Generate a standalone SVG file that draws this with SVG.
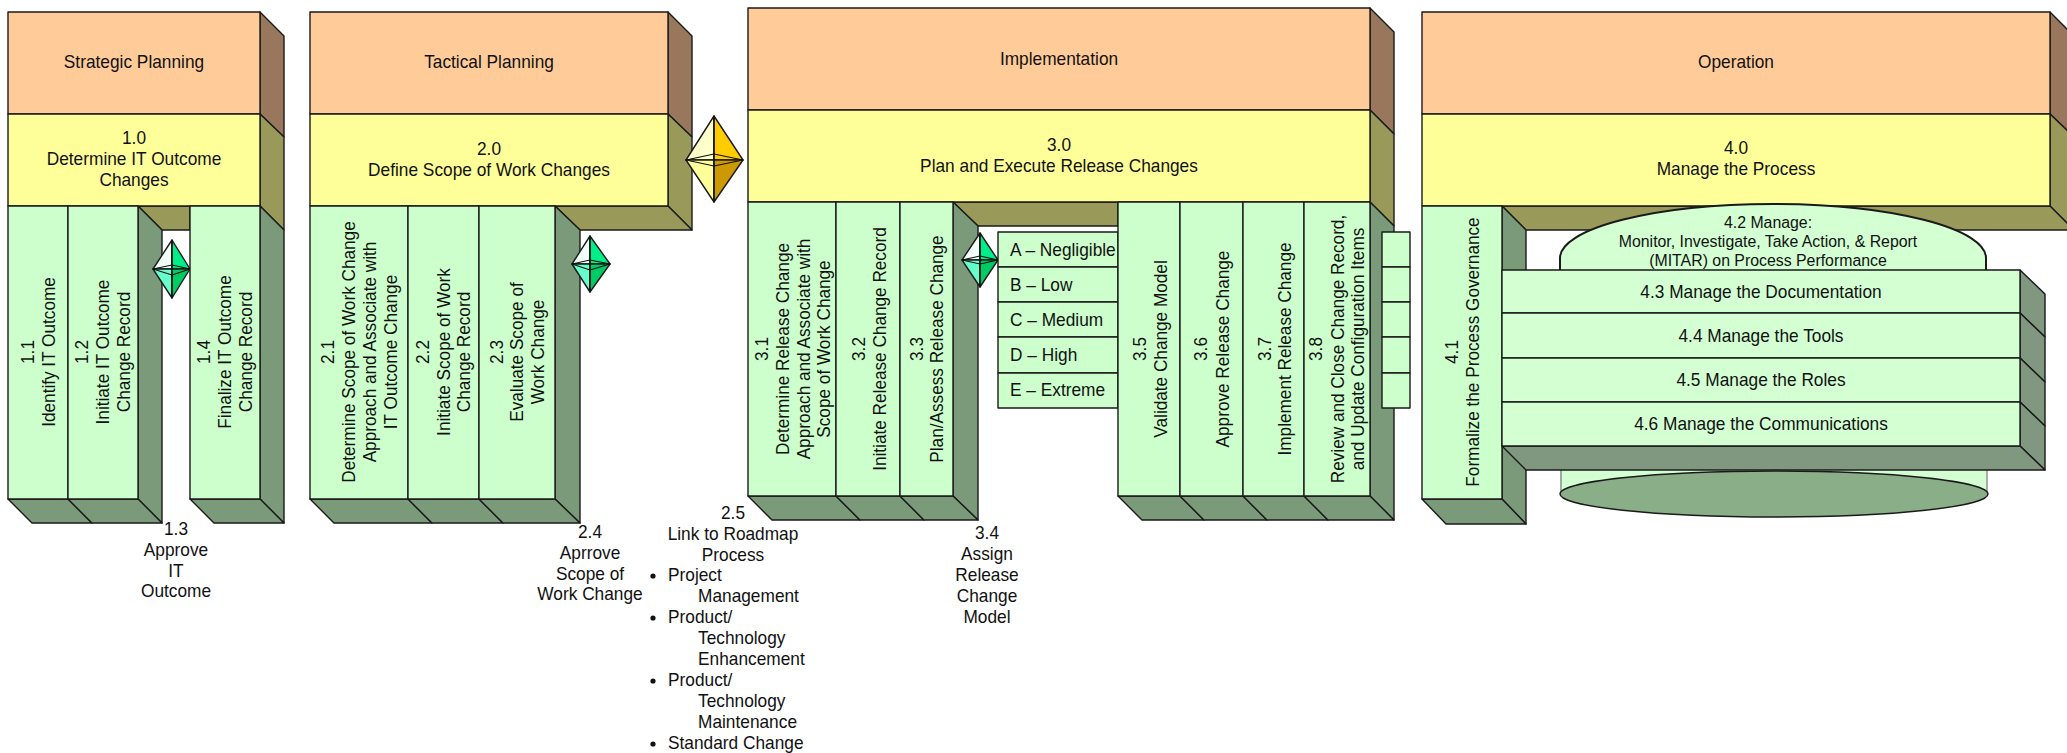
<svg xmlns="http://www.w3.org/2000/svg" width="2067" height="753" viewBox="0 0 2067 753">
<style>
text{font-family:"Liberation Sans",Arial,sans-serif;font-size:18.2px;fill:#111;text-anchor:middle}
.r{font-size:19px}
.l{text-anchor:start}
.s{font-size:16.2px}
polygon,rect,ellipse,path{stroke:#1a1a1a;stroke-width:1.4;stroke-linejoin:round}
.o{fill:#FFCC99}.bo{fill:#99775C}.y{fill:#FFFF99}.by{fill:#999959}.g{fill:#CCFFCC}.bg{fill:#7A9A7A}
.p{fill:#D3FFD3}.bp{fill:#7F987F}
.d{fill:none;stroke:#111;stroke-width:1.2}
.ul{fill:#F2FFF9}.ur{fill:#00EE88}.ll{fill:#66FFCC}.lr{fill:#00CC66}
</style>

<g id="strategic-planning">
<polygon class="bo" points="260,12 284,36 284,137 260,114"/>
<rect class="o" x="8" y="12" width="252" height="102"/>
<text transform="translate(134,68) scale(.95,1)">Strategic Planning</text>
</g>
<g id="n1-0">
<polygon class="by" points="260,114 284,137 284,230 260,206"/>
<polygon class="by" points="138,206 162,230 190,230 190,206"/>
<rect class="y" x="8" y="114" width="252" height="92"/>
<text transform="translate(134,144) scale(.95,1)">1.0</text><text transform="translate(134,165) scale(.95,1)">Determine IT Outcome</text><text transform="translate(134,186) scale(.95,1)">Changes</text>
</g>
<g id="n1-1">
<polygon class="bg" points="8,499 68,499 92,523 32,523"/>
<rect class="g" x="8" y="206" width="60" height="293"/>
<text class="r" transform="translate(34,352) rotate(-90) scale(.905,1)">1.1</text><text class="r" transform="translate(55,352) rotate(-90) scale(.905,1)">Identify IT Outcome</text>
</g>
<g id="n1-2">
<polygon class="bg" points="138,206 162,230 162,523 138,499"/>
<polygon class="bg" points="68,499 138,499 162,523 92,523"/>
<rect class="g" x="68" y="206" width="70" height="293"/>
<text class="r" transform="translate(88,352) rotate(-90) scale(.905,1)">1.2</text><text class="r" transform="translate(109,352) rotate(-90) scale(.905,1)">Initiate IT Outcome</text><text class="r" transform="translate(130,352) rotate(-90) scale(.905,1)">Change Record</text>
</g>
<g id="n1-3">
<polygon class="ul" points="172,240 153,269 172,269"/>
<polygon class="ur" points="172,240 190,269 172,269"/>
<polygon class="ll" points="172,298 153,269 172,269"/>
<polygon class="lr" points="172,298 190,269 172,269"/>
<path class="d" d="M153,269L172,275L190,269L172,265ZM172,240V298"/>
<text transform="translate(176,535) scale(.95,1)">1.3</text><text transform="translate(176,556) scale(.95,1)">Approve</text><text transform="translate(176,577) scale(.95,1)">IT</text><text transform="translate(176,597) scale(.95,1)">Outcome</text>
</g>
<g id="n1-4">
<polygon class="bg" points="260,206 284,230 284,523 260,499"/>
<polygon class="bg" points="190,499 260,499 284,523 214,523"/>
<rect class="g" x="190" y="206" width="70" height="293"/>
<text class="r" transform="translate(210,352) rotate(-90) scale(.905,1)">1.4</text><text class="r" transform="translate(231,352) rotate(-90) scale(.905,1)">Finalize IT Outcome</text><text class="r" transform="translate(252,352) rotate(-90) scale(.905,1)">Change Record</text>
</g>

<g id="tactical-planning">
<polygon class="bo" points="668,12 692,36 692,137 668,114"/>
<rect class="o" x="310" y="12" width="358" height="102"/>
<text transform="translate(489,68) scale(.95,1)">Tactical Planning</text>
</g>
<g id="n2-0">
<polygon class="by" points="668,114 692,137 692,230 668,206"/>
<polygon class="by" points="555,206 580,230 692,230 668,206"/>
<rect class="y" x="310" y="114" width="358" height="92"/>
<text transform="translate(489,155) scale(.95,1)">2.0</text><text transform="translate(489,176) scale(.95,1)">Define Scope of Work Changes</text>
</g>
<g id="n2-1">
<polygon class="bg" points="310,499 408,499 432,523 334,523"/>
<rect class="g" x="310" y="206" width="98" height="293"/>
<text class="r" transform="translate(334,352) rotate(-90) scale(.905,1)">2.1</text><text class="r" transform="translate(355,352) rotate(-90) scale(.905,1)">Determine Scope of Work Change</text><text class="r" transform="translate(376,352) rotate(-90) scale(.905,1)">Approach and Associate with</text><text class="r" transform="translate(397,352) rotate(-90) scale(.905,1)">IT Outcome Change</text>
</g>
<g id="n2-2">
<polygon class="bg" points="408,499 479,499 503,523 432,523"/>
<rect class="g" x="408" y="206" width="71" height="293"/>
<text class="r" transform="translate(429,352) rotate(-90) scale(.905,1)">2.2</text><text class="r" transform="translate(450,352) rotate(-90) scale(.905,1)">Initiate Scope of Work</text><text class="r" transform="translate(470,352) rotate(-90) scale(.905,1)">Change Record</text>
</g>
<g id="n2-3">
<polygon class="bg" points="555,206 580,230 580,523 555,499"/>
<polygon class="bg" points="479,499 555,499 580,523 503,523"/>
<rect class="g" x="479" y="206" width="76" height="293"/>
<text class="r" transform="translate(503,352) rotate(-90) scale(.905,1)">2.3</text><text class="r" transform="translate(523,352) rotate(-90) scale(.905,1)">Evaluate Scope of</text><text class="r" transform="translate(544,352) rotate(-90) scale(.905,1)">Work Change</text>
</g>
<g id="n2-4">
<polygon class="ul" points="590,236 572,264 590,264"/>
<polygon class="ur" points="590,236 610,264 590,264"/>
<polygon class="ll" points="590,292 572,264 590,264"/>
<polygon class="lr" points="590,292 610,264 590,264"/>
<path class="d" d="M572,264L590,270L610,264L590,260ZM590,236V292"/>
<text transform="translate(590,538) scale(.95,1)">2.4</text><text transform="translate(590,559) scale(.95,1)">Aprrove</text><text transform="translate(590,580) scale(.95,1)">Scope of</text><text transform="translate(590,600) scale(.95,1)">Work Change</text>
</g>

<g id="n2-5">
<polygon points="714,116 686,160 714,160" fill="#FFFFCC"/>
<polygon points="714,116 743,160 714,160" fill="#FFCC00"/>
<polygon points="714,202 686,160 714,160" fill="#FFFF99"/>
<polygon points="714,202 743,160 714,160" fill="#CC9900"/>
<path class="d" d="M686,160L714,166L743,160L714,154ZM714,116V202"/>
<text transform="translate(733,519) scale(.95,1)">2.5</text><text transform="translate(733,540) scale(.95,1)">Link to Roadmap</text><text transform="translate(733,561) scale(.95,1)">Process</text>
<circle cx="653" cy="576" r="2.6" fill="#111"/><text class="l" transform="translate(668,581) scale(.95,1)">Project</text><text class="l" transform="translate(698,602) scale(.95,1)">Management</text>
<circle cx="653" cy="618" r="2.6" fill="#111"/><text class="l" transform="translate(668,623) scale(.95,1)">Product/</text><text class="l" transform="translate(698,644) scale(.95,1)">Technology</text><text class="l" transform="translate(698,665) scale(.95,1)">Enhancement</text>
<circle cx="653" cy="681" r="2.6" fill="#111"/><text class="l" transform="translate(668,686) scale(.95,1)">Product/</text><text class="l" transform="translate(698,707) scale(.95,1)">Technology</text><text class="l" transform="translate(698,728) scale(.95,1)">Maintenance</text>
<circle cx="653" cy="744" r="2.6" fill="#111"/><text class="l" transform="translate(668,749) scale(.95,1)">Standard Change</text>
</g>

<g id="implementation">
<polygon class="bo" points="1370,8 1394,32 1394,134 1370,110"/>
<rect class="o" x="748" y="8" width="622" height="102"/>
<text transform="translate(1059,65) scale(.95,1)">Implementation</text>
</g>
<g id="n3-0">
<polygon class="by" points="1370,110 1394,134 1394,226 1370,202"/>
<polygon class="by" points="953,202 978,226 1118,226 1118,202"/>
<rect class="y" x="748" y="110" width="622" height="92"/>
<text transform="translate(1059,151) scale(.95,1)">3.0</text><text transform="translate(1059,172) scale(.95,1)">Plan and Execute Release Changes</text>
</g>
<g id="n3-1">
<polygon class="bg" points="748,496 836,496 860,520 772,520"/>
<rect class="g" x="748" y="202" width="88" height="294"/>
<text class="r" transform="translate(768,349) rotate(-90) scale(.905,1)">3.1</text><text class="r" transform="translate(789,349) rotate(-90) scale(.905,1)">Determine Release Change</text><text class="r" transform="translate(810,349) rotate(-90) scale(.905,1)">Approach and Associate with</text><text class="r" transform="translate(830,349) rotate(-90) scale(.905,1)">Scope of Work Change</text>
</g>
<g id="n3-2">
<polygon class="bg" points="836,496 900,496 924,520 860,520"/>
<rect class="g" x="836" y="202" width="64" height="294"/>
<text class="r" transform="translate(865,349) rotate(-90) scale(.905,1)">3.2</text><text class="r" transform="translate(886,349) rotate(-90) scale(.905,1)">Initiate Release Change Record</text>
</g>
<g id="n3-3">
<polygon class="bg" points="953,202 978,226 978,520 953,496"/>
<polygon class="bg" points="900,496 953,496 978,520 924,520"/>
<rect class="g" x="900" y="202" width="53" height="294"/>
<text class="r" transform="translate(923,349) rotate(-90) scale(.905,1)">3.3</text><text class="r" transform="translate(943,349) rotate(-90) scale(.905,1)">Plan/Assess Release Change</text>
</g>
<g id="n3-4">
<polygon class="ul" points="980,233 962,260 980,260"/>
<polygon class="ur" points="980,233 998,260 980,260"/>
<polygon class="ll" points="980,287 962,260 980,260"/>
<polygon class="lr" points="980,287 998,260 980,260"/>
<path class="d" d="M962,260L980,264L998,260L980,256ZM980,233V287"/>
<text transform="translate(987,539) scale(.95,1)">3.4</text><text transform="translate(987,560) scale(.95,1)">Assign</text><text transform="translate(987,581) scale(.95,1)">Release</text><text transform="translate(987,602) scale(.95,1)">Change</text><text transform="translate(987,623) scale(.95,1)">Model</text>
</g>
<g id="risk-levels">
<rect class="g" x="998" y="232" width="120" height="35"/><text class="l" transform="translate(1010,256) scale(.95,1)">A – Negligible</text>
<rect class="g" x="998" y="267" width="120" height="35"/><text class="l" transform="translate(1010,291) scale(.95,1)">B – Low</text>
<rect class="g" x="998" y="302" width="120" height="35"/><text class="l" transform="translate(1010,326) scale(.95,1)">C – Medium</text>
<rect class="g" x="998" y="337" width="120" height="36"/><text class="l" transform="translate(1010,361) scale(.95,1)">D – High</text>
<rect class="g" x="998" y="373" width="120" height="35"/><text class="l" transform="translate(1010,396) scale(.95,1)">E – Extreme</text>
</g>
<g id="n3-5">
<polygon class="bg" points="1118,496 1180,496 1204,520 1142,520"/>
<rect class="g" x="1118" y="202" width="62" height="294"/>
<text class="r" transform="translate(1146,349) rotate(-90) scale(.905,1)">3.5</text><text class="r" transform="translate(1167,349) rotate(-90) scale(.905,1)">Validate Change Model</text>
</g>
<g id="n3-6">
<polygon class="bg" points="1180,496 1243,496 1267,520 1204,520"/>
<rect class="g" x="1180" y="202" width="63" height="294"/>
<text class="r" transform="translate(1207,349) rotate(-90) scale(.905,1)">3.6</text><text class="r" transform="translate(1229,349) rotate(-90) scale(.905,1)">Approve Release Change</text>
</g>
<g id="n3-7">
<polygon class="bg" points="1243,496 1304,496 1328,520 1267,520"/>
<rect class="g" x="1243" y="202" width="61" height="294"/>
<text class="r" transform="translate(1271,349) rotate(-90) scale(.905,1)">3.7</text><text class="r" transform="translate(1291,349) rotate(-90) scale(.905,1)">Implement Release Change</text>
</g>
<g id="n3-8">
<polygon class="bg" points="1370,202 1394,226 1394,520 1370,496"/>
<polygon class="bg" points="1304,496 1370,496 1394,520 1328,520"/>
<rect class="g" x="1304" y="202" width="66" height="294"/>
<text class="r" transform="translate(1322,349) rotate(-90) scale(.905,1)">3.8</text><text class="r" transform="translate(1344,349) rotate(-90) scale(.905,1)">Review and Close Change Record,</text><text class="r" transform="translate(1364,349) rotate(-90) scale(.905,1)">and Update Configuration Items</text>
</g>
<g id="config-items">
<rect class="g" x="1382" y="232" width="28" height="35"/>
<rect class="g" x="1382" y="267" width="28" height="35"/>
<rect class="g" x="1382" y="302" width="28" height="35"/>
<rect class="g" x="1382" y="337" width="28" height="36"/>
<rect class="g" x="1382" y="373" width="28" height="35"/>
</g>

<g id="operation">
<polygon class="bo" points="2050,12 2074,36 2074,137 2050,114"/>
<rect class="o" x="1422" y="12" width="628" height="102"/>
<text transform="translate(1736,68) scale(.95,1)">Operation</text>
</g>
<g id="n4-0">
<polygon class="by" points="2050,114 2074,137 2074,230 2050,206"/>
<polygon class="by" points="1502,206 1526,230 2074,230 2050,206"/>
<rect class="y" x="1422" y="114" width="628" height="92"/>
<text transform="translate(1736,154) scale(.95,1)">4.0</text><text transform="translate(1736,175) scale(.95,1)">Manage the Process</text>
</g>
<g id="n4-1">
<polygon class="bg" points="1502,206 1526,230 1526,524 1502,499"/>
<polygon class="bg" points="1422,499 1502,499 1526,524 1446,524"/>
<rect class="g" x="1422" y="206" width="80" height="293"/>
<text class="r" transform="translate(1458,352) rotate(-90) scale(.905,1)">4.1</text><text class="r" transform="translate(1479,352) rotate(-90) scale(.905,1)">Formalize the Process Governance</text>
</g>
<g id="n4-2">
<path d="M1560,494V258A213,54 0 0 1 1986,258V494Z" fill="#D3FFD3" stroke="none" style="stroke:none"/>
<path d="M1560,270V258A213,54 0 0 1 1986,258V270" fill="none" style="stroke-width:2"/>
<path d="M1561,470V494M1987,470V494" fill="none" style="stroke:#888"/>
<ellipse cx="1774" cy="494" rx="214" ry="23" fill="#8AAE88" stroke-width="1"/>
<text class="s" transform="translate(1768,228) scale(.98,1)">4.2 Manage:</text><text class="s" transform="translate(1768,247) scale(.98,1)">Monitor, Investigate, Take Action, &amp; Report</text><text class="s" transform="translate(1768,266) scale(.98,1)">(MITAR) on Process Performance</text>
</g>
<g id="n4-3">
<polygon class="bp" points="2020,270 2045,294 2045,337 2020,313"/>
<rect class="p" x="1502" y="270" width="518" height="43"/>
<text transform="translate(1761,298) scale(.95,1)">4.3 Manage the Documentation</text>
</g>
<g id="n4-4">
<polygon class="bp" points="2020,313 2045,337 2045,382 2020,358"/>
<rect class="p" x="1502" y="313" width="518" height="45"/>
<text transform="translate(1761,342) scale(.95,1)">4.4 Manage the Tools</text>
</g>
<g id="n4-5">
<polygon class="bp" points="2020,358 2045,382 2045,426 2020,402"/>
<rect class="p" x="1502" y="358" width="518" height="44"/>
<text transform="translate(1761,386) scale(.95,1)">4.5 Manage the Roles</text>
</g>
<g id="n4-6">
<polygon class="bp" points="2020,402 2045,426 2045,470 2020,446"/>
<polygon class="bp" points="1502,446 2020,446 2045,470 1526,470"/>
<rect class="p" x="1502" y="402" width="518" height="44"/>
<text transform="translate(1761,430) scale(.95,1)">4.6 Manage the Communications</text>
</g>
</svg>
